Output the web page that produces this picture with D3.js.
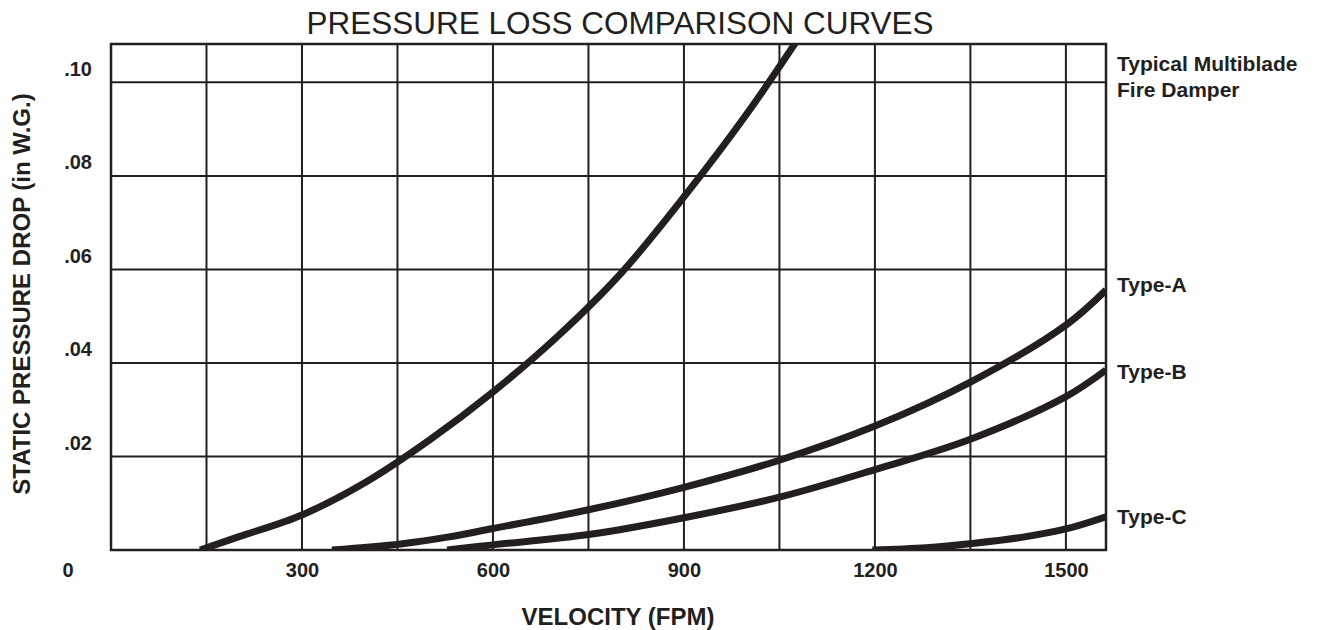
<!DOCTYPE html>
<html>
<head>
<meta charset="utf-8">
<script src="https://cdn.jsdelivr.net/npm/d3@7"></script>
<style>
  html, body { margin: 0; padding: 0; background: #ffffff; }
  svg { display: block; font-family: "Liberation Sans", Arial, Helvetica, sans-serif; }
</style>
</head>
<body>
<svg id="chart" width="1318" height="630"></svg>
<script>
// ---- data ----
const xTickValues = [300, 600, 900, 1200, 1500];
const xTickLabels = ["300", "600", "900", "1200", "1500"];
const yTickValues = [0.02, 0.04, 0.06, 0.08, 0.10];
const yTickLabels = [".02", ".04", ".06", ".08", ".10"];
const xGridValues = [150, 300, 450, 600, 750, 900, 1050, 1200, 1350, 1500];

const seriesNames = ["Typical Multiblade Fire Damper", "Type-A", "Type-B", "Type-C"];

const multibladeVel = [140, 200, 300, 400, 500, 600, 700, 800, 900, 1000, 1090];
const multibladeDrop = [0, 0.0028, 0.0075, 0.0145, 0.0235, 0.0338, 0.0455, 0.0590, 0.0755, 0.0935, 0.1115];

const typeAVel = [347, 455, 531, 600, 750, 900, 1050, 1200, 1350, 1500, 1563];
const typeADrop = [0, 0.0013, 0.0028, 0.0046, 0.0086, 0.0134, 0.0192, 0.0265, 0.0359, 0.0481, 0.0556];

const typeBVel = [528, 600, 750, 900, 1050, 1200, 1350, 1500, 1563];
const typeBDrop = [0, 0.0011, 0.0033, 0.0069, 0.0113, 0.0172, 0.0237, 0.0328, 0.0385];

const typeCVel = [1196, 1280, 1353, 1430, 1500, 1563];
const typeCDrop = [0, 0.0005, 0.0014, 0.0027, 0.0045, 0.0071];

// ---- layout ----
const ink = "#231f20";
const svg = d3.select("#chart");
const x = d3.scaleLinear().domain([0, 1563]).range([111, 1106]);
const y = d3.scaleLinear().domain([0, 0.1082]).range([550, 44]);

// clip
svg.append("defs").append("clipPath").attr("id", "plotclip")
  .append("rect")
  .attr("x", x(0)).attr("y", y(0.1082))
  .attr("width", x(1563) - x(0)).attr("height", y(0) - y(0.1082));

// grid
const grid = svg.append("g");
grid.selectAll("line.v").data(xGridValues).join("line")
  .attr("x1", d => x(d)).attr("x2", d => x(d))
  .attr("y1", y(0)).attr("y2", y(0.1082))
  .attr("stroke", ink).attr("stroke-width", 2);
grid.selectAll("line.h").data(yTickValues).join("line")
  .attr("x1", x(0)).attr("x2", x(1563))
  .attr("y1", d => y(d)).attr("y2", d => y(d))
  .attr("stroke", ink).attr("stroke-width", 2);

// frame
svg.append("rect")
  .attr("x", x(0)).attr("y", y(0.1082))
  .attr("width", x(1563) - x(0)).attr("height", y(0) - y(0.1082))
  .attr("fill", "none").attr("stroke", ink).attr("stroke-width", 2.5);

// axes
const tickFont = sel => sel.attr("fill", ink).style("font-size", "20px").style("font-weight", "bold")
  .style("font-family", '"Liberation Sans", Arial, sans-serif');
const xAxis = d3.axisBottom(x).tickValues(xTickValues)
  .tickFormat((d, i) => xTickLabels[i]).tickSize(0).tickPadding(13);
const gx = svg.append("g").attr("transform", `translate(0,${y(0)})`).call(xAxis);
gx.select(".domain").remove();
gx.selectAll("text").call(tickFont);

const yAxis = d3.axisLeft(y).tickValues(yTickValues)
  .tickFormat((d, i) => yTickLabels[i]).tickSize(0).tickPadding(19);
const gy = svg.append("g").attr("transform", `translate(${x(0)},0)`).call(yAxis);
gy.select(".domain").remove();
gy.selectAll("text").attr("dy", -7).call(tickFont);

// corner zero
svg.append("text").attr("x", 68).attr("y", 577).attr("text-anchor", "middle")
  .call(tickFont).text("0");

// curves
const line = d3.line().x(d => x(d[0])).y(d => y(d[1])).curve(d3.curveCatmullRom.alpha(0.5));
const series = [
  [multibladeVel, multibladeDrop],
  [typeAVel, typeADrop],
  [typeBVel, typeBDrop],
  [typeCVel, typeCDrop]
];
svg.append("g").attr("clip-path", "url(#plotclip)")
  .selectAll("path").data(series).join("path")
  .attr("d", s => line(s[0].map((v, i) => [v, s[1][i]])))
  .attr("fill", "none").attr("stroke", ink).attr("stroke-width", 7)
  .attr("stroke-linecap", "butt");

// right labels
const labelStyle = sel => sel.attr("fill", ink).style("font-size", "21px").style("font-weight", "bold");
const mb = svg.append("text").attr("x", 1117).attr("y", 71).call(labelStyle);
mb.append("tspan").attr("x", 1117).text("Typical Multiblade");
mb.append("tspan").attr("x", 1117).attr("dy", 26).text("Fire Damper");
svg.append("text").attr("x", 1117).attr("y", 292).call(labelStyle).text(seriesNames[1]);
svg.append("text").attr("x", 1117).attr("y", 379).call(labelStyle).text(seriesNames[2]);
svg.append("text").attr("x", 1117).attr("y", 524).call(labelStyle).text(seriesNames[3]);

// titles
svg.append("text").attr("x", 620).attr("y", 34).attr("text-anchor", "middle")
  .attr("fill", ink).style("font-size", "31.5px")
  .text("PRESSURE LOSS COMPARISON CURVES");
svg.append("text").attr("x", 618).attr("y", 625).attr("text-anchor", "middle")
  .attr("fill", ink).style("font-size", "24px").style("font-weight", "bold")
  .text("VELOCITY (FPM)");
svg.append("text").attr("transform", "translate(30,294) rotate(-90)").attr("text-anchor", "middle")
  .attr("fill", ink).style("font-size", "24px").style("font-weight", "bold")
  .text("STATIC PRESSURE DROP (in W.G.)");
</script>
</body>
</html>
